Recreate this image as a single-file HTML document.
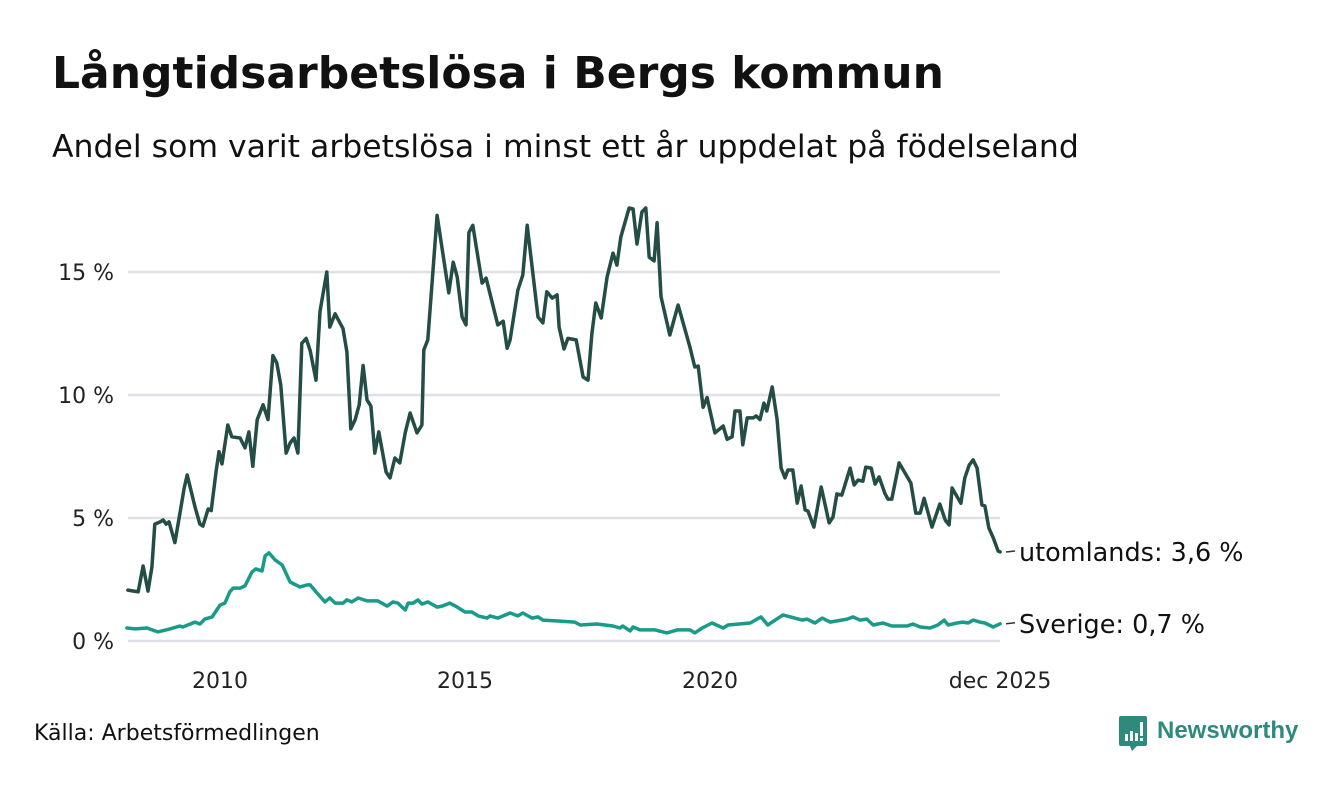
<!DOCTYPE html>
<html><head><meta charset="utf-8"><style>
body{margin:0;background:#fff;width:1340px;height:780px;overflow:hidden;font-family:"Liberation Sans","DejaVu Sans",sans-serif;}
</style></head><body>
<svg id="chart" width="1340" height="780" xmlns="http://www.w3.org/2000/svg">
<text x="52" y="88" font-size="44" font-weight="bold" fill="#111" font-family="DejaVu Sans, sans-serif">Långtidsarbetslösa i Bergs kommun</text>
<text x="52" y="157" font-size="31.5" fill="#111" font-family="DejaVu Sans, sans-serif">Andel som varit arbetslösa i minst ett år uppdelat på födelseland</text>
<g id="grid"></g>
<g id="series"></g>
<g id="labels"></g>
<text x="34" y="740" font-size="22" fill="#111" font-family="DejaVu Sans, sans-serif">Källa: Arbetsförmedlingen</text>
<g>
<path d="M1121 716 h24 a2 2 0 0 1 2 2 v26 a2 2 0 0 1 -2 2 h-8 l-5 5 l-2 -5 h-9 a2 2 0 0 1 -2 -2 v-26 a2 2 0 0 1 2 -2z" fill="#2f8a7e"/>
<rect x="1125" y="734" width="3" height="7" fill="#fff"/><rect x="1130" y="731" width="3" height="10" fill="#fff"/><rect x="1135" y="733" width="3" height="8" fill="#fff"/><rect x="1140" y="722" width="3" height="14" fill="#fff"/><rect x="1140" y="738" width="3" height="3" fill="#fff"/>
<text x="1157" y="738" font-size="24" font-weight="bold" fill="#2f8a7e" font-family="Liberation Sans, sans-serif">Newsworthy</text>
</g>
</svg>
<script>
const yTicks=[0,5,10,15];
const yTickLabels=["0 %","5 %","10 %","15 %"];
const xTicks=[2010,2015,2020,2025.92];
const xTickLabels=["2010","2015","2020","dec 2025"];
const foreignDates=[2008.12,2008.24,2008.33,2008.43,2008.53,2008.61,2008.67,2008.78,2008.84,2008.90,2008.96,2009.08,2009.18,2009.27,2009.33,2009.49,2009.59,2009.65,2009.76,2009.82,2009.92,2009.98,2010.04,2010.16,2010.24,2010.41,2010.51,2010.59,2010.67,2010.76,2010.88,2010.98,2011.08,2011.16,2011.24,2011.35,2011.43,2011.51,2011.59,2011.67,2011.76,2011.84,2011.96,2012.04,2012.18,2012.24,2012.35,2012.51,2012.59,2012.67,2012.76,2012.84,2012.92,2013.00,2013.08,2013.16,2013.24,2013.39,2013.47,2013.57,2013.67,2013.78,2013.88,2014.02,2014.12,2014.16,2014.24,2014.43,2014.67,2014.76,2014.84,2014.94,2015.02,2015.08,2015.16,2015.35,2015.43,2015.67,2015.78,2015.86,2015.92,2016.08,2016.18,2016.27,2016.49,2016.59,2016.67,2016.78,2016.88,2016.92,2017.02,2017.10,2017.27,2017.41,2017.51,2017.59,2017.67,2017.78,2017.90,2018.02,2018.10,2018.18,2018.35,2018.43,2018.51,2018.61,2018.69,2018.76,2018.86,2018.92,2019.00,2019.18,2019.35,2019.59,2019.69,2019.76,2019.86,2019.94,2020.10,2020.27,2020.35,2020.45,2020.51,2020.61,2020.67,2020.76,2020.88,2020.94,2021.02,2021.10,2021.16,2021.27,2021.37,2021.45,2021.53,2021.59,2021.69,2021.78,2021.86,2021.94,2022.00,2022.12,2022.27,2022.43,2022.51,2022.59,2022.69,2022.86,2022.94,2023.02,2023.12,2023.18,2023.29,2023.37,2023.45,2023.57,2023.63,2023.71,2023.86,2024.10,2024.20,2024.29,2024.37,2024.53,2024.69,2024.80,2024.88,2024.94,2025.12,2025.20,2025.29,2025.37,2025.45,2025.55,2025.61,2025.69,2025.78,2025.88,2025.92];
const foreignValues=[2.07,2.03,2.0,3.05,2.03,3.0,4.75,4.84,4.92,4.75,4.84,4.0,5.16,6.22,6.75,5.45,4.75,4.67,5.37,5.3,6.9,7.7,7.2,8.78,8.3,8.25,7.85,8.5,7.1,9.0,9.6,9.0,11.6,11.3,10.4,7.64,8.05,8.25,7.64,12.1,12.3,11.8,10.6,13.4,15.0,12.76,13.3,12.7,11.75,8.62,9.0,9.6,11.2,9.8,9.55,7.64,8.5,6.87,6.63,7.44,7.24,8.46,9.27,8.46,8.78,11.83,12.24,17.3,14.15,15.4,14.8,13.17,12.85,16.6,16.9,14.55,14.75,12.85,13.0,11.9,12.24,14.27,14.88,16.9,13.17,12.93,14.2,13.94,14.07,12.76,11.87,12.3,12.24,10.73,10.6,12.5,13.74,13.13,14.8,15.77,15.28,16.42,17.6,17.56,16.14,17.44,17.6,15.6,15.45,17.0,14.0,12.44,13.66,11.95,11.14,11.18,9.5,9.9,8.46,8.74,8.2,8.3,9.35,9.35,7.97,9.07,9.07,9.15,9.0,9.67,9.35,10.33,9.0,7.03,6.63,6.95,6.95,5.6,6.3,5.33,5.28,4.63,6.26,4.8,5.04,5.98,5.93,7.03,6.34,6.54,6.5,7.07,7.03,6.38,6.67,6.0,5.77,5.77,7.24,6.42,5.2,5.2,5.8,4.63,5.57,4.92,4.72,6.22,5.6,6.63,7.15,7.36,7.03,5.53,5.49,4.6,4.2,3.66,3.62];
const swedenDates=[2008.10,2008.27,2008.51,2008.73,2008.98,2009.18,2009.24,2009.49,2009.59,2009.69,2009.84,2010.00,2010.10,2010.20,2010.27,2010.41,2010.51,2010.65,2010.73,2010.86,2010.92,2011.00,2011.12,2011.27,2011.43,2011.63,2011.78,2011.84,2011.98,2012.14,2012.24,2012.35,2012.51,2012.59,2012.69,2012.82,2013.00,2013.22,2013.41,2013.53,2013.63,2013.78,2013.84,2013.94,2014.04,2014.12,2014.24,2014.43,2014.53,2014.69,2014.84,2015.00,2015.14,2015.27,2015.45,2015.51,2015.67,2015.92,2016.08,2016.18,2016.37,2016.49,2016.59,2016.94,2017.24,2017.35,2017.69,2018.02,2018.16,2018.22,2018.37,2018.43,2018.57,2018.88,2019.12,2019.33,2019.59,2019.69,2019.84,2020.04,2020.27,2020.37,2020.82,2021.04,2021.18,2021.33,2021.49,2021.88,2021.98,2022.14,2022.29,2022.45,2022.80,2022.92,2023.06,2023.20,2023.33,2023.53,2023.71,2024.02,2024.14,2024.29,2024.49,2024.65,2024.78,2024.86,2025.04,2025.16,2025.27,2025.37,2025.51,2025.61,2025.78,2025.92];
const swedenValues=[0.53,0.49,0.53,0.37,0.49,0.61,0.57,0.77,0.69,0.89,0.98,1.46,1.54,2.0,2.15,2.15,2.24,2.8,2.93,2.85,3.46,3.58,3.3,3.09,2.4,2.2,2.28,2.28,1.95,1.59,1.75,1.54,1.54,1.67,1.59,1.75,1.63,1.63,1.42,1.59,1.54,1.26,1.54,1.54,1.67,1.5,1.59,1.38,1.42,1.54,1.38,1.18,1.18,1.02,0.93,1.02,0.93,1.14,1.02,1.14,0.93,0.98,0.85,0.81,0.77,0.65,0.69,0.61,0.53,0.61,0.41,0.57,0.45,0.45,0.33,0.45,0.45,0.33,0.53,0.73,0.53,0.65,0.73,0.98,0.65,0.85,1.06,0.85,0.89,0.73,0.93,0.77,0.89,0.98,0.85,0.89,0.65,0.73,0.61,0.61,0.69,0.57,0.53,0.65,0.85,0.65,0.73,0.77,0.73,0.85,0.77,0.73,0.57,0.7];
const seriesNames=["utomlands: 3,6 %","Sverige: 0,7 %"];

const NS="http://www.w3.org/2000/svg";
const X0=128,X1=1000;
function xs(t){return 220+(t-2010)*49;}
function ys(v){return 641-v*24.6;}
function mk(tag,attrs,parent){const e=document.createElementNS(NS,tag);for(const k in attrs)e.setAttribute(k,attrs[k]);parent.appendChild(e);return e;}
const grid=document.getElementById('grid'),series=document.getElementById('series'),labels=document.getElementById('labels');
yTicks.forEach((v,i)=>{
  const l=mk('line',{x1:X0,x2:X1,y1:ys(v),y2:ys(v),stroke:'#e1e0e6','stroke-width':2.5},grid);
  
  
  const t=mk('text',{x:114,y:ys(v)+8,'text-anchor':'end','font-size':22,fill:'#222','font-family':'DejaVu Sans, sans-serif'},labels);
  t.textContent=yTickLabels[i];
  
  
});
xTicks.forEach((v,i)=>{
  const t=mk('text',{x:xs(v),y:688,'text-anchor':'middle','font-size':22,fill:'#222','font-family':'DejaVu Sans, sans-serif'},labels);
  t.textContent=xTickLabels[i];
  
  
});
function drawLine(d,v,color,name){
  const pts=d.map((t,i)=>xs(t).toFixed(1)+','+ys(v[i]).toFixed(1)).join(' ');
  const p=mk('polyline',{points:pts,fill:'none',stroke:color,'stroke-width':3.5,'stroke-linejoin':'round','stroke-linecap':'round'},series);
  
  
}
drawLine(swedenDates,swedenValues,'#1a9a88','line-sverige');
drawLine(foreignDates,foreignValues,'#234d45','line-utomlands');
function endLabel(v,text,name){
  const y=ys(v);
  const d=mk('line',{x1:1006,x2:1015,y1:y,y2:y-1,stroke:'#333','stroke-width':1.5},labels);
  
  
  const t=mk('text',{x:1019,y:y+9,'font-size':25.5,fill:'#111','font-family':'DejaVu Sans, sans-serif'},labels);
  t.textContent=text;
  
  
}
endLabel(foreignValues[foreignValues.length-1],seriesNames[0],'label-utomlands');
endLabel(swedenValues[swedenValues.length-1],seriesNames[1],'label-sverige');
</script>
</body></html>
